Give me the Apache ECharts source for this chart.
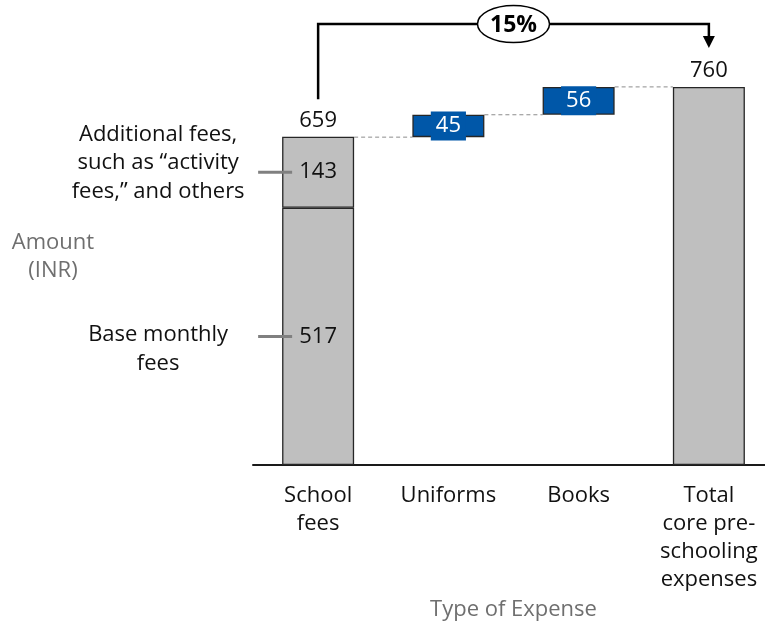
<!DOCTYPE html>
<html>
<head>
<meta charset="utf-8">
<script src="https://cdn.jsdelivr.net/npm/echarts@6/dist/echarts.min.js"></script>
<style>
  html, body { margin: 0; padding: 0; background: #fff; }
  #main { width: 765px; height: 627px; }
</style>
</head>
<body>
<div id="main"></div>
<script>
// data
var categories = ["School\nfees", "Uniforms", "Books", "Total\ncore pre-\nschooling\nexpenses"];
var baseFees = [517, "-", "-", "-"];
var additionalFees = [143, "-", "-", "-"];
var increments = ["-", 45, 56, "-"];
var totals = [659, "-", "-", 760];
var feeNotes = ["Base monthly\nfees", "Additional fees,\nsuch as \u201cactivity\nfees,\u201d and others"];

// running level where each floating bar starts
var offsets = ["-"];
var level = totals[0];
for (var i = 1; i < categories.length; i++) {
  if (increments[i] !== "-") {
    offsets.push(level);
    level += increments[i];
  } else {
    offsets.push("-");
  }
}
// connector levels: top of each bar, carried to the next one
var connectors = [];
var run = totals[0];
connectors.push([0, run]);
for (var j = 1; j < categories.length - 1; j++) {
  run += increments[j];
  connectors.push([j, run]);
}

var FONT = "Open Sans";
var FS = 22;
var GREY = "#bfbfbf";
var BLUE = "#0057a8";
var EDGE = "#262626";
var INK = "#111";
var BAR_W = 72;

var chart = echarts.init(document.getElementById("main"));

chart.setOption({
  animation: false,
  textStyle: { fontFamily: FONT },
  grid: { left: 253, width: 521, top: 67, height: 398, containLabel: false, outerBoundsMode: "none" },
  xAxis: {
    type: "category",
    data: categories,
    axisLine: { lineStyle: { color: "#1a1a1a", width: 2 } },
    axisTick: { show: false },
    axisLabel: { color: INK, fontSize: FS, lineHeight: 28, margin: 17, fontFamily: FONT },
    name: "Type of Expense",
    nameLocation: "middle",
    nameGap: 133,
    nameTextStyle: { color: "#6f6f6f", fontSize: FS, fontFamily: FONT }
  },
  yAxis: {
    type: "value",
    min: 0,
    max: 800,
    show: false
  },
  series: [
    {
      name: "offset",
      type: "bar",
      stack: "w",
      barWidth: BAR_W,
      silent: true,
      itemStyle: { color: "transparent" },
      data: offsets
    },
    {
      name: "Base monthly fees",
      type: "bar",
      stack: "w",
      barWidth: BAR_W,
      itemStyle: { color: GREY, borderColor: EDGE, borderWidth: 1.3 },
      label: { show: true, position: "inside", color: INK, fontSize: FS, fontFamily: FONT },
      data: baseFees
    },
    {
      name: "Additional fees",
      type: "bar",
      stack: "w",
      barWidth: BAR_W,
      itemStyle: { color: GREY, borderColor: EDGE, borderWidth: 1.3 },
      label: { show: true, position: "inside", color: INK, fontSize: FS, fontFamily: FONT },
      data: additionalFees
    },
    {
      name: "Increment",
      type: "bar",
      stack: "w",
      barWidth: BAR_W,
      itemStyle: { color: BLUE, borderColor: EDGE, borderWidth: 1.3 },
      label: {
        show: true, position: "inside", color: "#fff", fontSize: FS, fontFamily: FONT,
        backgroundColor: BLUE, padding: [2, 5, 0, 5], lineHeight: 27
      },
      data: increments
    },
    {
      name: "Total",
      type: "bar",
      stack: "w",
      barWidth: BAR_W,
      itemStyle: { color: GREY, borderColor: EDGE, borderWidth: 1.3 },
      data: ["-", "-", "-", totals[3]]
    },
    {
      name: "totalLabels",
      type: "scatter",
      symbolSize: 0,
      silent: true,
      itemStyle: { color: INK, opacity: 1 },
      label: { show: true, position: "top", distance: 5, color: INK, fontSize: FS, fontFamily: FONT },
      data: totals
    },
    {
      name: "connectors",
      type: "custom",
      silent: true,
      data: connectors,
      renderItem: function (params, api) {
        var a = api.coord([api.value(0), api.value(1)]);
        var b = api.coord([api.value(0) + 1, api.value(1)]);
        return {
          type: "line",
          shape: { x1: a[0] + BAR_W / 2, y1: a[1], x2: b[0] - BAR_W / 2, y2: b[1] },
          style: { stroke: "#8c8c8c", lineWidth: 1, lineDash: [4, 3] }
        };
      }
    },
    {
      name: "notes",
      type: "custom",
      silent: true,
      z: 10,
      data: [
        [0, baseFees[0] / 2, 0],
        [0, baseFees[0] + additionalFees[0] / 2, 1]
      ],
      renderItem: function (params, api) {
        var p = api.coord([api.value(0), api.value(1)]);
        var idx = api.value(2);
        var shift = idx === 0 ? 13 : -9;
        return {
          type: "group",
          children: [
            {
              type: "line",
              shape: { x1: p[0] - 60, y1: p[1], x2: p[0] - 26, y2: p[1] },
              style: { stroke: "#808080", lineWidth: 3 }
            },
            {
              type: "text",
              x: p[0] - 160,
              y: p[1] + shift,
              style: {
                text: feeNotes[idx],
                fill: INK,
                font: FS + "px " + FONT,
                align: "center",
                verticalAlign: "middle",
                lineHeight: 28.5
              }
            }
          ]
        };
      }
    }
  ]
});

// bracket showing growth from school fees to the total
var pStart = chart.convertToPixel({ seriesIndex: 0 }, [0, totals[0]]);
var pEnd = chart.convertToPixel({ seriesIndex: 0 }, [3, totals[3]]);
var topY = 24;
var midX = (pStart[0] + pEnd[0]) / 2;
var growth = Math.round((totals[3] - totals[0]) / totals[0] * 100) + "%";
chart.setOption({
  graphic: [
    {
      type: "text",
      x: 53,
      y: 257,
      style: {
        text: "Amount\n(INR)", fill: "#6f6f6f", font: FS + "px " + FONT,
        align: "center", verticalAlign: "middle", lineHeight: 28
      }
    },
    {
      type: "polyline",
      shape: { points: [[pStart[0], pStart[1] - 38], [pStart[0], topY], [pEnd[0], topY], [pEnd[0], pEnd[1] - 50]] },
      style: { stroke: "#000", lineWidth: 2.5, fill: null }
    },
    {
      type: "polygon",
      shape: { points: [[pEnd[0] - 6, pEnd[1] - 51], [pEnd[0] + 6, pEnd[1] - 51], [pEnd[0], pEnd[1] - 39]] },
      style: { fill: "#000" }
    },
    {
      type: "ellipse",
      shape: { cx: midX, cy: topY, rx: 36, ry: 18.5 },
      style: { fill: "#fff", stroke: "#000", lineWidth: 1.5 }
    },
    {
      type: "text",
      x: midX,
      y: topY + 1,
      style: { text: growth, fill: "#000", font: "bold 23px " + FONT, align: "center", verticalAlign: "middle" }
    }
  ]
});

window.onresize = function () {
  chart.resize();
};
</script>
</body>
</html>
